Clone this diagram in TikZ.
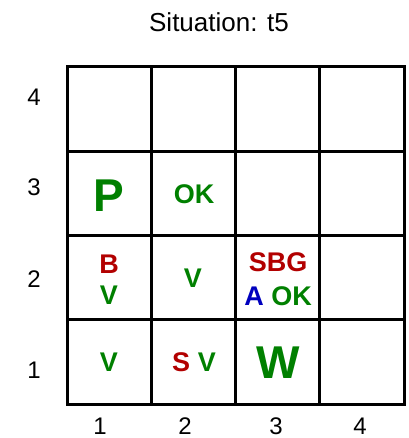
\documentclass[tikz,border=0pt]{standalone}
\usepackage{fontspec}
\setmainfont{Liberation Sans}
\usepackage{xcolor}
\usetikzlibrary{positioning}

\definecolor{wgreen}{RGB}{0,128,0}
\definecolor{wred}{RGB}{178,0,0}
\definecolor{wblue}{RGB}{0,0,190}

\begin{document}
\begin{tikzpicture}[
  x=1pt, y=-1pt,
  gridline/.style={line width=3pt, line cap=rect},
  axlbl/.style={anchor=base, inner sep=0pt, font=\fontsize{24}{24}\selectfont},
  ttl/.style={anchor=base, inner sep=0pt, font=\fontsize{26}{26}\selectfont},
  small/.style={anchor=base, inner sep=0pt, font=\bfseries\fontsize{27}{27}\selectfont},
  big/.style={anchor=base, inner sep=0pt, font=\bfseries\fontsize{46}{46}\selectfont}
]
\useasboundingbox (0,0) rectangle (408,438);

\node[ttl] (title) at (219,32) {Situation: t5};

% the 4x4 board
\foreach \k in {0,...,4} {
  \draw[gridline] ({67+84.25*\k},67) -- ({67+84.25*\k},404);
  \draw[gridline] (67,{67+84.25*\k}) -- (404,{67+84.25*\k});
}

% row and column numbers
\node[axlbl] (row4) at (34,106) {4};
\node[axlbl] (row3) at (34,196) {3};
\node[axlbl] (row2) at (34,287) {2};
\node[axlbl] (row1) at (34,378) {1};
\node[axlbl] (col1) at (100,434) {1};
\node[axlbl] (col2) at (185,434) {2};
\node[axlbl] (col3) at (276,434) {3};
\node[axlbl] (col4) at (360,434) {4};

% cell contents
\node[big, text=wgreen] (pit13) at (109,211) {P};
\node[small, text=wgreen] (ok23) at (194,203) {OK};

\node[small, text=wred] (breeze12) at (109,273) {B};
\node[small, text=wgreen] (visit12) at (109,304) {V};
\node[small, text=wgreen] (visit22) at (193,287) {V};
\node[small, text=wred] (sbg32) at (278,271) {SBG};
\node[small, text=wgreen] (agent32) at (278,305) {{\color{wblue}A} OK};

\node[small, text=wgreen] (visit11) at (109,371) {V};
\node[small, text=wgreen] (sv21) at (194,371) {{\color{wred}S} V};
\node[big, text=wgreen] (wumpus31) at (278,378) {W};

\end{tikzpicture}
\end{document}
